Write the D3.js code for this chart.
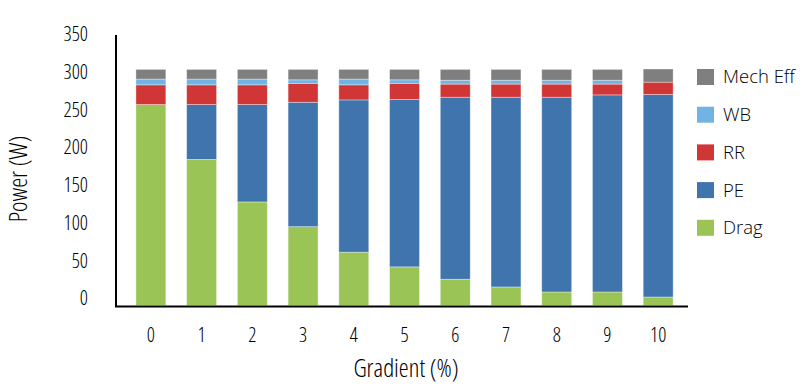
<!DOCTYPE html>
<html>
<head>
<meta charset="utf-8">
<script src="https://cdn.jsdelivr.net/npm/d3@7"></script>
<style>
  body { margin: 0; background: #fff; }
  svg { display: block; font-family: "Open Sans", "DejaVu Sans Condensed", sans-serif; font-stretch: 85%; font-weight: 300; }
  .legend text { font-stretch: 90%; }
</style>
</head>
<body>
<div id="chart"></div>
<script>
const gradients = ["0", "1", "2", "3", "4", "5", "6", "7", "8", "9", "10"];
const drag = [260, 189, 134, 102, 69, 50, 34, 24, 17.5, 17.5, 11];
const pe   = [0, 71, 126, 161, 197, 216.5, 235.5, 245.5, 252, 255, 262];
const rr   = [25.5, 25.5, 25.5, 24.5, 19.5, 21, 17, 17, 17, 14, 16];
const wb   = [7.5, 7.5, 7.5, 4.5, 7.5, 4.5, 5, 5, 5, 5, 0];
const mech = [12.5, 12.5, 12.5, 13.5, 12.5, 13.5, 14, 14, 14, 14, 17];
const seriesNames = ["Drag", "PE", "RR", "WB", "Mech Eff"];
const colors = ["#9bc457", "#3f74ad", "#d13636", "#71b3e3", "#7f7f7f"];
const yTicks = [0, 50, 100, 150, 200, 250, 300, 350];

const W = 802, H = 392;
const svg = d3.select("#chart").append("svg").attr("width", W).attr("height", H);

const rows = gradients.map((g, i) => ({
  g, "Drag": drag[i], "PE": pe[i], "RR": rr[i], "WB": wb[i], "Mech Eff": mech[i]
}));
const stacked = d3.stack().keys(seriesNames)(rows);

const x = d3.scaleBand().domain(gradients).range([117, 688])
  .paddingInner(0.41).paddingOuter(0.333).align(0.56);
const y = d3.scaleLinear().domain([0, 350]).range([305.5, 35]);
// tick labels sit slightly above the gridline positions in the original
const yLab = d3.scaleLinear().domain([0, 350]).range([298.3, 34.5]);

svg.append("g").selectAll("g").data(stacked).join("g")
  .attr("fill", (d, i) => colors[i])
  .selectAll("rect").data(d => d).join("rect")
  .attr("x", d => x(d.data.g))
  .attr("width", x.bandwidth())
  .attr("y", d => y(d[1]))
  .attr("height", d => Math.max(0, y(d[0]) - y(d[1])))
  .attr("stroke", "rgba(255,255,255,0.45)")
  .attr("stroke-width", 0.8);

// axis lines
svg.append("line").attr("x1", 116).attr("x2", 116).attr("y1", y(350)).attr("y2", y(0) + 1)
  .attr("stroke", "#000").attr("stroke-width", 2);
svg.append("line").attr("x1", 115).attr("x2", 688).attr("y1", y(0) + 1).attr("y2", y(0) + 1)
  .attr("stroke", "#000").attr("stroke-width", 2);

// y tick labels
const yAxis = svg.append("g").attr("transform", "translate(88,0)")
  .call(d3.axisLeft(yLab).tickValues(yTicks).tickSize(0).tickPadding(0))
  .attr("font-family", null).attr("font-size", null);
yAxis.select(".domain").remove();
yAxis.selectAll("text").attr("font-size", 20).attr("fill", "#000");

// x tick labels
const xAxis = svg.append("g").attr("transform", "translate(0,335)")
  .call(d3.axisBottom(x).tickSize(0).tickPadding(0))
  .attr("font-family", null).attr("font-size", null);
xAxis.select(".domain").remove();
xAxis.selectAll("text").attr("font-size", 20).attr("fill", "#000").attr("dy", "0.35em");

// titles
svg.append("text").attr("transform", "translate(27,179) rotate(-90)")
  .attr("text-anchor", "middle").attr("font-size", 25).text("Power (W)");
svg.append("text").attr("x", 406).attr("y", 377)
  .attr("text-anchor", "middle").attr("font-size", 25).text("Gradient (%)");

// legend, top to bottom
const legendOrder = seriesNames.map((n, i) => ({ n, c: colors[i] })).reverse();
const lg = svg.append("g").attr("class", "legend").selectAll("g").data(legendOrder).join("g")
  .attr("transform", (d, i) => `translate(697,${77 + i * 37.7})`);
lg.append("rect").attr("x", 0).attr("y", -8).attr("width", 17).attr("height", 16)
  .attr("fill", d => d.c);
lg.append("text").attr("x", 26).attr("y", 0).attr("dy", "0.35em")
  .attr("font-size", 18.5).text(d => d.n);
</script>
</body>
</html>
